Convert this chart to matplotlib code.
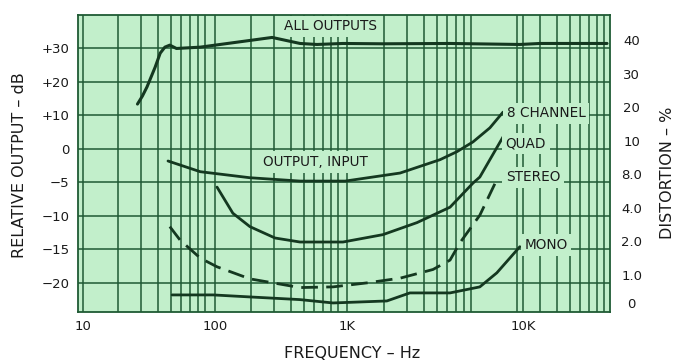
import numpy as np
import matplotlib.pyplot as plt
from matplotlib.ticker import LogLocator, NullFormatter

BG = '#c2efcb'
GRID = '#1f5a34'
INK = '#143820'
TEXT = '#1a1a1a'

# curves: frequency in Hz, level in dB on the left scale
all_out_f = [28, 30.5, 33, 38, 41.5, 45, 49, 55, 83, 196, 288, 467, 626, 982, 1960, 6270, 21000, 29800, 95000]
all_out_db = [13.4, 15.8, 18.5, 24.4, 28.6, 30.4, 31.0, 30.0, 30.4, 32.4, 33.3, 31.5, 31.2, 31.5, 31.4, 31.5, 31.2, 31.5, 31.5]

out_in_f = [47.5, 83, 196, 467, 1020, 2640, 5280, 7080, 9330, 12500, 15700]
out_in_db = [-1.8, -3.4, -4.3, -4.8, -4.8, -3.6, -1.6, -0.4, 2.1, 6.3, 11.0]

quad_f = [111, 146, 196, 303, 467, 982, 1960, 3540, 6270, 9330, 10500, 15700]
quad_db = [-5.7, -9.6, -11.6, -13.3, -13.9, -13.9, -12.8, -11.0, -8.7, -5.1, -4.2, 3.6]

stereo_f = [49, 58.5, 83, 111, 196, 467, 826, 1490, 2640, 4670, 6270, 7450, 10500, 14400]
stereo_db = [-11.6, -13.6, -16.3, -17.6, -19.4, -20.7, -20.6, -20.0, -19.3, -18.0, -16.6, -14.0, -9.9, -4.2]

mono_f = [51, 104, 196, 467, 826, 2100, 3130, 6270, 10500, 14100, 21000]
mono_db = [-21.8, -21.8, -22.1, -22.5, -23.0, -22.7, -21.5, -21.5, -20.6, -18.5, -14.6]

db_ticks = [30, 20, 10, 0, -5, -10, -15, -20]
db_labels = ['+30', '+20', '+10', '0', '\u22125', '\u221210', '\u221215', '\u221220']
dist_labels = ['40', '30', '20', '10', '8.0', '4.0', '2.0', '1.0', '0']
freq_labels = ['10', '100', '1K', '10K']


def row(db):
    # the left scale is 10 dB per row above 0 and 5 dB per row below
    db = np.asarray(db, dtype=float)
    return np.where(db >= 0, db / 10.0, db / 5.0)


fig = plt.figure(figsize=(6.76, 3.6), dpi=100)
ax = fig.add_axes([78 / 676, 1 - 312 / 360, 532 / 676, 297 / 360])
ax.set_facecolor(BG)
ax.set_xscale('log')
ax.set_xlim(10, 100000)
ax.set_ylim(-4.87, 4.0)

# grid
ax.xaxis.set_major_locator(LogLocator(base=10, numticks=10))
ax.xaxis.set_minor_locator(LogLocator(base=10, subs=np.arange(2, 10), numticks=40))
ax.xaxis.set_minor_formatter(NullFormatter())
ax.grid(True, which='both', axis='x', color=GRID, lw=1.1, zorder=1)
for r in row(db_ticks):
    ax.axhline(r, color=GRID, lw=1.1, zorder=1)
for s in ax.spines.values():
    s.set_color(GRID)
    s.set_linewidth(1.3)

# ticks
ax.set_yticks(row(db_ticks))
ax.set_yticklabels(db_labels)
ax.tick_params(axis='y', length=0, pad=6, labelsize=9.5, labelcolor=TEXT)
# the printed chart sets its "10K" label well right of the 10K line
ax.set_xticks([10.9, 107, 1055, 22200], minor=False)
ax.set_xticklabels(freq_labels)
ax.tick_params(axis='x', which='both', length=0, pad=6, labelsize=9.5, labelcolor=TEXT)

# right-hand distortion scale
dist_rows = [3, 2, 1, 0, -1, -2, -3, -4, -4.85]
trans = ax.get_yaxis_transform()
for lab, r in zip(dist_labels, dist_rows):
    ax.text(1.041, r + 0.2, lab, transform=trans, ha='center', va='center',
            fontsize=9.5, color=TEXT, clip_on=False)

# curves
ax.plot(all_out_f, row(all_out_db), color=INK, lw=2.2, zorder=3, solid_capstyle='round')
ax.plot(out_in_f, row(out_in_db), color=INK, lw=2.0, zorder=3, solid_capstyle='round')
ax.plot(quad_f, row(quad_db), color=INK, lw=2.0, zorder=3, solid_capstyle='round')
ax.plot(stereo_f, row(stereo_db), color=INK, lw=2.0, zorder=3, dashes=(6, 3))
ax.plot(mono_f, row(mono_db), color=INK, lw=2.0, zorder=3, solid_capstyle='round')

# curve labels
box = dict(facecolor=BG, edgecolor='none', pad=2.5)
lab_kw = dict(ha='center', va='center', fontsize=9.8, color=TEXT, zorder=4, bbox=box)
ax.text(785, 3.67, 'ALL OUTPUTS', **lab_kw)
ax.text(605, -0.39, 'OUTPUT, INPUT', **lab_kw)
ax.text(33000, 1.07, '8 CHANNEL', **lab_kw)
ax.text(23300, 0.15, 'QUAD', **lab_kw)
ax.text(26400, -0.84, 'STEREO', **lab_kw)
ax.text(33000, -2.87, 'MONO', **lab_kw)

# axis titles
fig.text(20 / 676, 1 - 165 / 360, 'RELATIVE OUTPUT \u2013 dB', rotation=90,
         ha='center', va='center', fontsize=11.5, color=TEXT)
fig.text(667 / 676, 1 - 173 / 360, 'DISTORTION \u2013 %', rotation=90,
         ha='center', va='center', fontsize=11.5, color=TEXT)
fig.text(352 / 676, 1 - 353 / 360, 'FREQUENCY \u2013 Hz',
         ha='center', va='center', fontsize=11.5, color=TEXT)

fig.savefig('out.png', dpi=100, facecolor='white')
